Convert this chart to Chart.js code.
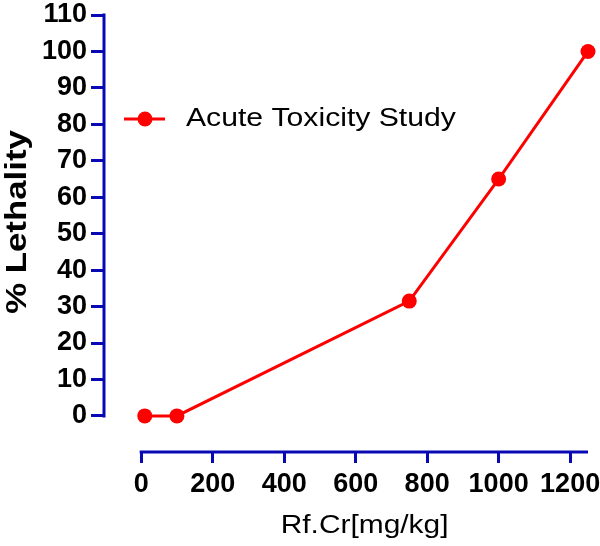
<!DOCTYPE html>
<html>
<head>
<meta charset="utf-8">
<script src="https://cdn.jsdelivr.net/npm/chart.js@4.4.1/dist/chart.umd.min.js"></script>
<style>
html,body{margin:0;padding:0;background:#fff;}
#wrap{width:600px;height:546px;position:relative;}
</style>
</head>
<body>
<div id="wrap"><canvas id="c" width="600" height="546"></canvas></div>
<script>
const doses = [10, 100, 750, 1000, 1250];
const lethality = [0, 0, 31.5, 65, 100];
const seriesName = 'Acute Toxicity Study';
const xTitle = 'Rf.Cr[mg/kg]';
const yTitle = '% Lethality';
const xTickValues = [0, 200, 400, 600, 800, 1000, 1200];
const yTickValues = [0, 10, 20, 30, 40, 50, 60, 70, 80, 90, 100, 110];

const BLUE = '#0808b4';
const RED = '#ff0000';
const FONT = 'Arial, "Liberation Sans", sans-serif';

function wideText(ctx, text, x, y, font, align, stretch, angle) {
  ctx.save();
  ctx.translate(x, y);
  if (angle) ctx.rotate(angle);
  ctx.scale(stretch, 1);
  ctx.font = font;
  ctx.textAlign = align;
  ctx.textBaseline = 'alphabetic';
  ctx.fillText(text, 0, 0);
  ctx.restore();
}

const axisPlugin = {
  id: 'axisLines',
  afterDraw(chart) {
    const ctx = chart.ctx;
    const xs = chart.scales.x, ys = chart.scales.y;
    ctx.save();
    ctx.strokeStyle = BLUE;
    ctx.lineWidth = 3;
    ctx.lineCap = 'butt';
    // y axis line
    const yx = chart.chartArea.left;
    ctx.beginPath();
    ctx.moveTo(yx, ys.getPixelForValue(0) + 1.5);
    ctx.lineTo(yx, ys.getPixelForValue(110) - 1.5);
    ctx.stroke();
    // x axis line
    const xy = chart.chartArea.bottom;
    ctx.beginPath();
    ctx.moveTo(xs.getPixelForValue(0) - 1.5, xy);
    ctx.lineTo(xs.getPixelForValue(1250), xy);
    ctx.stroke();
    // legend
    const ly = 119;
    ctx.strokeStyle = RED;
    ctx.beginPath();
    ctx.moveTo(124, ly);
    ctx.lineTo(165, ly);
    ctx.stroke();
    ctx.fillStyle = RED;
    ctx.beginPath();
    ctx.arc(145, ly, 7.5, 0, Math.PI * 2);
    ctx.fill();
    ctx.fillStyle = '#000';
    wideText(ctx, seriesName, 186, 126, '26px ' + FONT, 'left', 1.16, 0);
    // y title
    wideText(ctx, yTitle, 26, 222, 'bold 30px ' + FONT, 'center', 1.16, -Math.PI / 2);
    // x title
    wideText(ctx, xTitle, (xs.getPixelForValue(0) + xs.getPixelForValue(1250)) / 2, 533, '26px ' + FONT, 'center', 1.15, 0);
    ctx.restore();
  }
};

new Chart(document.getElementById('c'), {
  type: 'scatter',
  data: {
    datasets: [{
      label: seriesName,
      data: doses.map((d, i) => ({ x: d, y: lethality[i] })),
      showLine: true,
      borderColor: RED,
      backgroundColor: RED,
      borderWidth: 3,
      pointRadius: 7.5,
      pointHoverRadius: 7.5,
      pointBorderWidth: 0,
      clip: false
    }]
  },
  options: {
    responsive: false,
    animation: false,
    layout: { padding: { top: 15, right: 12, left: 0, bottom: 0 } },
    plugins: { legend: { display: false }, tooltip: { enabled: false } },
    scales: {
      x: {
        type: 'linear',
        min: -104,
        max: 1250,
        afterBuildTicks(s) { s.ticks = xTickValues.map(v => ({ value: v })); },
        afterFit(s) { s.height = 94; s.paddingLeft = 0; s.paddingRight = 0; },
        border: { display: false },
        grid: { drawOnChartArea: false, drawTicks: true, tickLength: 11, color: BLUE, lineWidth: 3 },
        ticks: {
          color: '#000',
          font: { family: FONT, size: 27, weight: 'bold', lineHeight: 1 },
          padding: 8,
          maxRotation: 0,
          autoSkip: false,
          callback: v => String(v)
        }
      },
      y: {
        type: 'linear',
        min: -9.9,
        max: 110,
        afterBuildTicks(s) { s.ticks = yTickValues.map(v => ({ value: v })); },
        afterFit(s) { s.width = 104; s.paddingTop = 0; s.paddingBottom = 0; },
        border: { display: false },
        grid: { drawOnChartArea: false, drawTicks: true, tickLength: 13, color: BLUE, lineWidth: 3 },
        ticks: {
          color: '#000',
          font: { family: FONT, size: 27, weight: 'bold', lineHeight: 1 },
          padding: 4,
          autoSkip: false,
          callback: v => String(v)
        }
      }
    }
  },
  plugins: [axisPlugin]
});
</script>
</body>
</html>
